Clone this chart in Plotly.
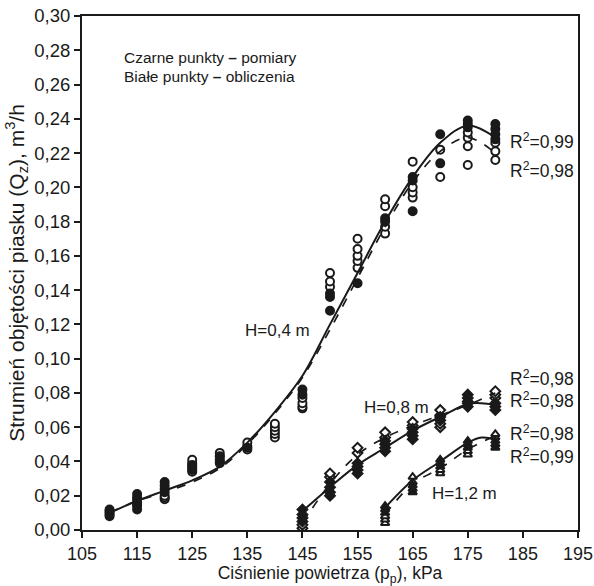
import plotly.graph_objects as go

# ---------------- data ----------------
# H = 0,4 m  (circles)
p04 = [110, 115, 120, 125, 130, 135, 140, 145, 150, 155, 160, 165, 170, 175, 180]
h04_meas = [[0.008, 0.010, 0.012], [0.012, 0.014, 0.019, 0.021], [0.022, 0.024, 0.026, 0.028],
            [0.035, 0.038], [0.040, 0.043], [0.048], [], [0.079, 0.082],
            [0.128, 0.136, 0.138], [0.144], [0.180, 0.182], [0.186, 0.204, 0.206],
            [0.214, 0.231], [0.235, 0.237, 0.239], [0.228, 0.231, 0.234, 0.237]]
h04_calc = [[0.009, 0.011], [0.015, 0.016, 0.018], [0.018, 0.019, 0.020],
            [0.034, 0.036, 0.037, 0.039, 0.041], [0.039, 0.041, 0.043, 0.045],
            [0.047, 0.049, 0.051], [0.054, 0.056, 0.058, 0.060, 0.062],
            [0.071, 0.072, 0.074, 0.077], [0.142, 0.145, 0.150],
            [0.153, 0.157, 0.160, 0.164, 0.170], [0.173, 0.177, 0.189, 0.193],
            [0.194, 0.197, 0.200, 0.215], [0.206, 0.222],
            [0.213, 0.224, 0.229, 0.232], [0.216, 0.221, 0.226]]
h04_fit_meas = [0.010, 0.017, 0.023, 0.029, 0.037, 0.051, 0.069, 0.090, 0.120,
                0.150, 0.180, 0.206, 0.226, 0.236, 0.229]
h04_fit_calc = [0.010, 0.017, 0.022, 0.028, 0.036, 0.050, 0.068, 0.089, 0.117,
                0.147, 0.177, 0.203, 0.221, 0.229, 0.220]

# H = 0,8 m  (diamonds)
p08 = [145, 150, 155, 160, 165, 170, 175, 180]
h08_meas = [[0.005, 0.007, 0.009, 0.012], [0.020, 0.022, 0.025, 0.028],
            [0.033, 0.035, 0.037, 0.039], [0.046, 0.048, 0.050, 0.052],
            [0.053, 0.055, 0.057, 0.059], [0.064, 0.066],
            [0.072, 0.075, 0.077, 0.079], [0.070, 0.072, 0.074]]
h08_calc = [[0.001, 0.003], [0.031, 0.033], [0.045, 0.048], [0.054, 0.057],
            [0.061, 0.063], [0.060, 0.062, 0.067, 0.070], [0.074], [0.077, 0.079, 0.081]]
p08_fit_meas = [145, 150, 155, 160, 165, 170, 175, 177.5, 180]
h08_fit_meas = [0.011, 0.025, 0.038, 0.048, 0.058, 0.066, 0.0735, 0.074, 0.073]
p08_fit_calc = [145, 150, 155, 160, 165, 170, 175, 180]
h08_fit_calc = [0.004, 0.027, 0.044, 0.054, 0.061, 0.067, 0.073, 0.080]

# H = 1,2 m  (triangles)
p12 = [160, 165, 170, 175, 180]
h12_meas = [[0.010, 0.012, 0.014], [0.022, 0.024, 0.026], [0.037, 0.039, 0.041],
            [0.048, 0.050, 0.052], [0.048, 0.050, 0.052]]
h12_calc = [[0.004, 0.006, 0.008], [0.028, 0.031], [0.033, 0.035],
            [0.044, 0.046], [0.054, 0.056]]
p12_fit_meas = [160, 165, 170, 175, 177.5, 180]
h12_fit_meas = [0.013, 0.029, 0.040, 0.051, 0.054, 0.053]
p12_fit_calc = [160, 165, 170, 175, 180]
h12_fit_calc = [0.009, 0.027, 0.036, 0.047, 0.055]

x_ticks = [105, 115, 125, 135, 145, 155, 165, 175, 185, 195]
y_ticks = [0.00, 0.02, 0.04, 0.06, 0.08, 0.10, 0.12, 0.14, 0.16, 0.18, 0.20,
           0.22, 0.24, 0.26, 0.28, 0.30]

FONT = "Liberation Sans, Arial, sans-serif"
INK = "#1a1a1a"


def flat(xs, groups):
    fx, fy = [], []
    for x, g in zip(xs, groups):
        for v in g:
            fx.append(x)
            fy.append(v)
    return fx, fy


fig = go.Figure()


def add_line(x, y, dash):
    fig.add_trace(go.Scatter(
        x=x, y=y, mode="lines", line_shape="spline",
        line=dict(color=INK, width=2 if dash == "solid" else 1.7, dash=dash),
        showlegend=False, hoverinfo="skip"))


def add_pts(xs, groups, symbol, filled, size):
    fx, fy = flat(xs, groups)
    fig.add_trace(go.Scatter(
        x=fx, y=fy, mode="markers", showlegend=False,
        marker=dict(symbol=symbol, size=size,
                    color=INK if filled else "white",
                    line=dict(color=INK, width=2))))


add_pts(p04, h04_calc, "circle", False, 8)
add_pts(p04, h04_meas, "circle", True, 8)
add_pts(p08, h08_calc, "diamond", False, 7.5)
add_pts(p08, h08_meas, "diamond", True, 7.5)
add_pts(p12, h12_calc, "triangle-up", False, 7.5)
add_pts(p12, h12_meas, "triangle-up", True, 7.5)

add_line(p04, h04_fit_meas, "solid")
add_line(p04, h04_fit_calc, "dash")
add_line(p08_fit_meas, h08_fit_meas, "solid")
add_line(p08_fit_calc, h08_fit_calc, "dash")
add_line(p12_fit_meas, h12_fit_meas, "solid")
add_line(p12_fit_calc, h12_fit_calc, "dash")

annots = [
    dict(x=182.3, y=0.227, text="R<sup>2</sup>=0,99"),
    dict(x=182.3, y=0.210, text="R<sup>2</sup>=0,98"),
    dict(x=182.3, y=0.0888, text="R<sup>2</sup>=0,98"),
    dict(x=182.3, y=0.076, text="R<sup>2</sup>=0,98"),
    dict(x=182.3, y=0.0568, text="R<sup>2</sup>=0,98"),
    dict(x=182.3, y=0.0432, text="R<sup>2</sup>=0,99"),
]
for a in annots:
    fig.add_annotation(x=a["x"], y=a["y"], text=a["text"], showarrow=False,
                       xanchor="left", yanchor="middle",
                       font=dict(family=FONT, size=17.5, color=INK))

for tx, ty, tt in [(140.4, 0.1162, "H=0,4 m"), (162.1, 0.0715, "H=0,8 m"),
                   (174.4, 0.0214, "H=1,2 m")]:
    fig.add_annotation(x=tx, y=ty, text=tt, showarrow=False,
                       xanchor="center", yanchor="middle",
                       font=dict(family=FONT, size=17, color=INK))

fig.add_annotation(x=0.08, xref="paper", y=0.276, text="Czarne punkty <b>–</b> pomiary",
                   showarrow=False, xanchor="left", yanchor="middle",
                   font=dict(family=FONT, size=15.5, color=INK))
fig.add_annotation(x=0.08, xref="paper", y=0.2646, text="Białe punkty <b>–</b> obliczenia",
                   showarrow=False, xanchor="left", yanchor="middle",
                   font=dict(family=FONT, size=15.5, color=INK))

fig.update_layout(
    width=594, height=586,
    margin=dict(l=82, r=16, t=16, b=56),
    paper_bgcolor="white", plot_bgcolor="white",
    separators=", ",
    font=dict(family=FONT, color=INK),
    showlegend=False,
)
fig.update_xaxes(
    range=[105, 195], tickvals=x_ticks, ticks="outside", ticklen=6, tickwidth=1.5,
    tickcolor=INK, showline=True, linecolor=INK, linewidth=2, mirror=True,
    showgrid=False, zeroline=False, automargin=False,
    tickfont=dict(size=18, family=FONT, color=INK),
    title=dict(text="Ciśnienie powietrza (p<sub>p</sub>), kPa",
               font=dict(size=17.5, family=FONT, color=INK), standoff=6))
fig.update_yaxes(
    range=[0, 0.30], tickvals=y_ticks, tickformat=".2f", ticks="outside", ticklen=6,
    tickwidth=1.5, tickcolor=INK, showline=True, linecolor=INK, linewidth=2,
    mirror=True, showgrid=False, zeroline=False, automargin=False,
    tickfont=dict(size=18.5, family=FONT, color=INK),
    title=dict(text="Strumień objętości piasku (Q<sub>z</sub>), m<sup>3</sup>/h",
               font=dict(size=21, family=FONT, color=INK), standoff=4))

fig.write_html("out.html")
